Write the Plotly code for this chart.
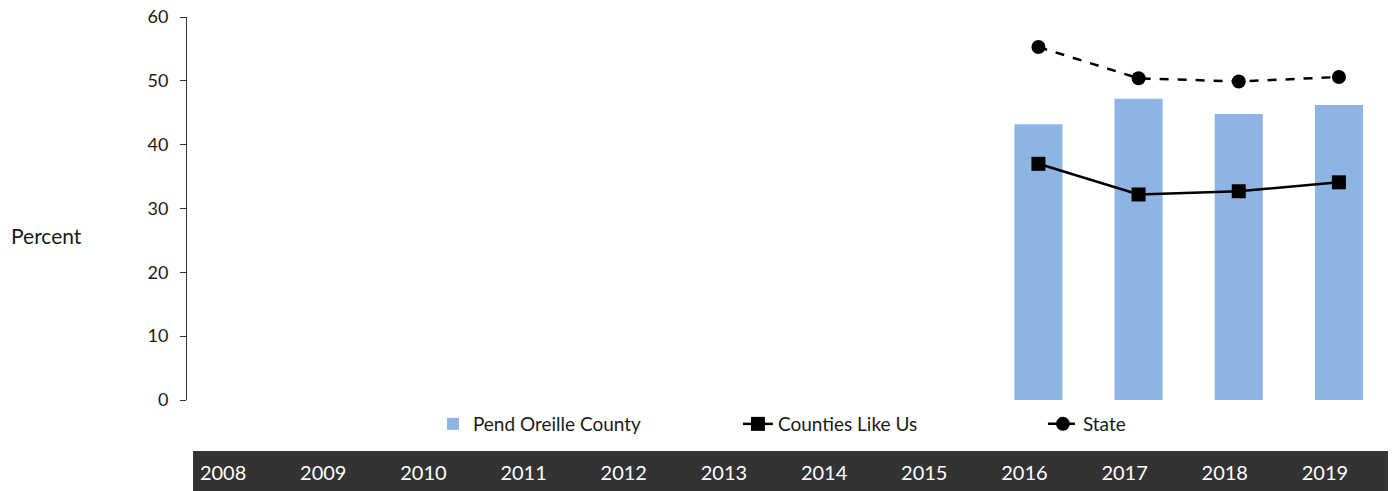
import plotly.graph_objects as go

years = ["2008", "2009", "2010", "2011", "2012", "2013", "2014", "2015", "2016", "2017", "2018", "2019"]
county = [None, None, None, None, None, None, None, None, 43.2, 47.2, 44.8, 46.2]
counties_like_us = [None, None, None, None, None, None, None, None, 37.0, 32.2, 32.7, 34.1]
state = [None, None, None, None, None, None, None, None, 55.3, 50.4, 49.9, 50.6]

FONT = "Lato"
TXT = "#1a1a1a"
fig = go.Figure()
fig.add_trace(go.Bar(x=years, y=county, name="Pend Oreille County",
                     marker=dict(color="#8EB4E3", line=dict(width=0)), width=0.48))
fig.add_trace(go.Scatter(x=years, y=counties_like_us, name="Counties Like Us", mode="lines+markers",
                         line=dict(color="black", width=2.5),
                         marker=dict(symbol="square", size=14, color="black")))
fig.add_trace(go.Scatter(x=years, y=state, name="State", mode="lines+markers",
                         line=dict(color="black", width=2.5, dash="dash"),
                         marker=dict(symbol="circle", size=14, color="black")))

fig.update_layout(
    width=1388, height=483,
    margin=dict(l=179, r=7, t=9, b=91, autoexpand=False),
    paper_bgcolor="white", plot_bgcolor="white",
    font=dict(family=FONT, size=18, color=TXT),
    showlegend=True,
    legend=dict(orientation="h", x=0.2046, xanchor="left", y=-0.0627, yanchor="middle",
                font=dict(size=19, color=TXT), entrywidth=260, bgcolor="rgba(0,0,0,0)"),
)
fig.update_yaxes(range=[0, 60], dtick=10, showgrid=False, showline=True, linecolor="#333333",
                 linewidth=1, ticks="outside", ticklen=6, tickcolor="#333333", automargin=False,
                 ticklabeloverflow="allow", ticklabelstandoff=8,
                 tickfont=dict(size=18, color=TXT), zeroline=False, fixedrange=True)
fig.update_xaxes(range=[-0.5, 11.5], showgrid=False, showline=False, ticks="",
                 tickfont=dict(size=20, color="white"), ticklabeloverflow="allow",
                 ticklabelstandoff=59, ticklabelshift=-14, automargin=False, fixedrange=True)

fig.add_shape(type="rect", xref="paper", yref="paper", x0=0.005, x1=1.0025, y0=-0.2376, y1=-0.1332,
              fillcolor="#333333", line=dict(width=0), layer="below")
fig.add_annotation(text="Percent", xref="paper", yref="paper", x=-0.117, y=0.43,
                   xanchor="center", yanchor="middle", showarrow=False,
                   font=dict(size=21, color=TXT))

fig.write_html("out.html")
